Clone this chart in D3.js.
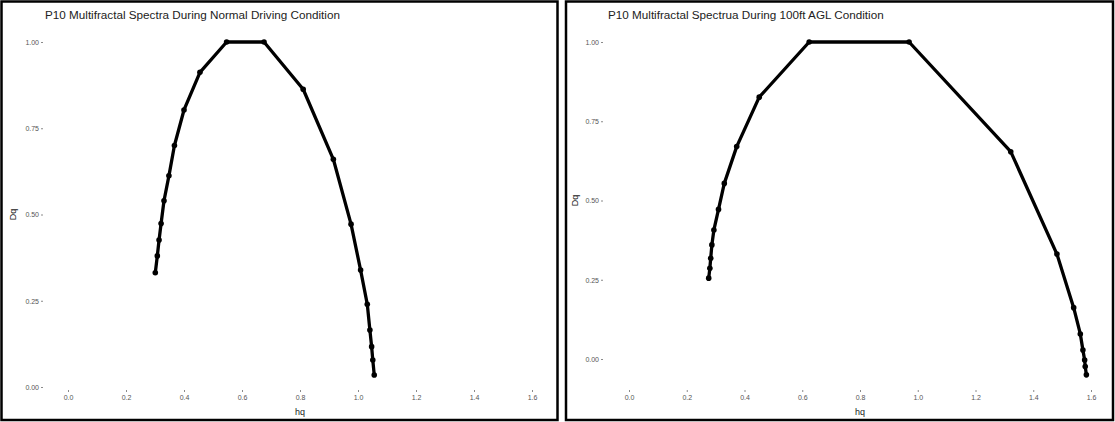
<!DOCTYPE html>
<html>
<head>
<meta charset="utf-8">
<script src="https://cdn.jsdelivr.net/npm/d3@7"></script>
<style>
  body { margin: 0; background: #fff; }
  svg { display: block; font-family: "Liberation Sans", Arial, sans-serif; }
  .tick text { fill: #555; font-size: 7px; }
  .tick line { stroke: #8a8a8a; }
  .axis-title { font-size: 9px; fill: #222; }
  .title { font-size: 11.7px; fill: #222; }
</style>
</head>
<body>
<script>
// normal driving spectrum
var normalHq = [0.301, 0.308, 0.314, 0.321, 0.331, 0.348, 0.367, 0.400, 0.455, 0.547,
                0.676, 0.811, 0.915, 0.976, 1.009, 1.032, 1.041, 1.047, 1.051, 1.056];
var normalDq = [0.331, 0.380, 0.426, 0.474, 0.540, 0.612, 0.700, 0.803, 0.912, 1.000,
                1.000, 0.863, 0.660, 0.472, 0.339, 0.240, 0.165, 0.117, 0.078, 0.035];

// 100ft AGL spectrum
var aglHq = [0.276, 0.280, 0.283, 0.287, 0.294, 0.310, 0.330, 0.373, 0.451, 0.624,
             0.970, 1.322, 1.482, 1.540, 1.563, 1.572, 1.578, 1.580, 1.584];
var aglDq = [0.255, 0.286, 0.318, 0.360, 0.407, 0.472, 0.554, 0.670, 0.826, 1.000,
             1.000, 0.654, 0.331, 0.162, 0.079, 0.028, -0.003, -0.024, -0.050];

var xTicks = [0, 0.2, 0.4, 0.6, 0.8, 1.0, 1.2, 1.4, 1.6];
var yTicks = [0, 0.25, 0.5, 0.75, 1.0];

var svg = d3.select("body").append("svg")
    .attr("width", 1115)
    .attr("height", 422);

function drawPanel(p) {
  var g = svg.append("g");

  g.append("rect")
      .attr("x", p.box[0]).attr("y", p.box[1])
      .attr("width", p.box[2]).attr("height", p.box[3])
      .attr("fill", "none")
      .attr("stroke", "#000")
      .attr("stroke-width", 2.5);

  var x = d3.scaleLinear().domain([0, 1.6]).range(p.xr);
  var y = d3.scaleLinear().domain([0, 1]).range(p.yr);

  var xAxis = g.append("g")
      .attr("transform", "translate(0," + p.xAxisY + ")")
      .call(d3.axisBottom(x).tickValues(xTicks).tickFormat(d3.format(".1f")).tickSize(2).tickPadding(3));
  xAxis.select(".domain").remove();

  var yAxis = g.append("g")
      .attr("transform", "translate(" + p.yAxisX + ",0)")
      .call(d3.axisLeft(y).tickValues(yTicks).tickFormat(d3.format(".2f")).tickSize(2).tickPadding(2));
  yAxis.select(".domain").remove();

  g.append("text")
      .attr("class", "title")
      .attr("x", p.titleX).attr("y", 19)
      .text(p.title);

  g.append("text")
      .attr("class", "axis-title")
      .attr("x", (p.xr[0] + p.xr[1]) / 2)
      .attr("y", 415)
      .attr("text-anchor", "middle")
      .text("hq");

  g.append("text")
      .attr("class", "axis-title")
      .attr("transform", "translate(" + p.dqX + "," + ((p.yr[0] + p.yr[1]) / 2) + ") rotate(-90)")
      .attr("text-anchor", "middle")
      .text("Dq");

  var pts = p.hq.map(function(h, i) { return [h, p.dq[i]]; });

  g.append("path")
      .datum(pts)
      .attr("fill", "none")
      .attr("stroke", "#000")
      .attr("stroke-width", 3.3)
      .attr("stroke-linejoin", "round")
      .attr("d", d3.line().x(function(d) { return x(d[0]); }).y(function(d) { return y(d[1]); }));

  g.selectAll("circle")
      .data(pts)
      .join("circle")
      .attr("cx", function(d) { return x(d[0]); })
      .attr("cy", function(d) { return y(d[1]); })
      .attr("r", 2.8)
      .attr("fill", "#000");
}

drawPanel({
  box: [1.5, 1.5, 556, 418.5],
  xr: [68, 532], yr: [387, 42],
  xAxisY: 390, yAxisX: 43, dqX: 16,
  titleX: 45,
  title: "P10 Multifractal Spectra During Normal Driving Condition",
  hq: normalHq, dq: normalDq
});

drawPanel({
  box: [566, 1.5, 547, 418.5],
  xr: [629, 1091], yr: [359, 42],
  xAxisY: 390, yAxisX: 603, dqX: 578,
  titleX: 608,
  title: "P10 Multifractal Spectrua During 100ft AGL Condition",
  hq: aglHq, dq: aglDq
});
</script>
</body>
</html>
